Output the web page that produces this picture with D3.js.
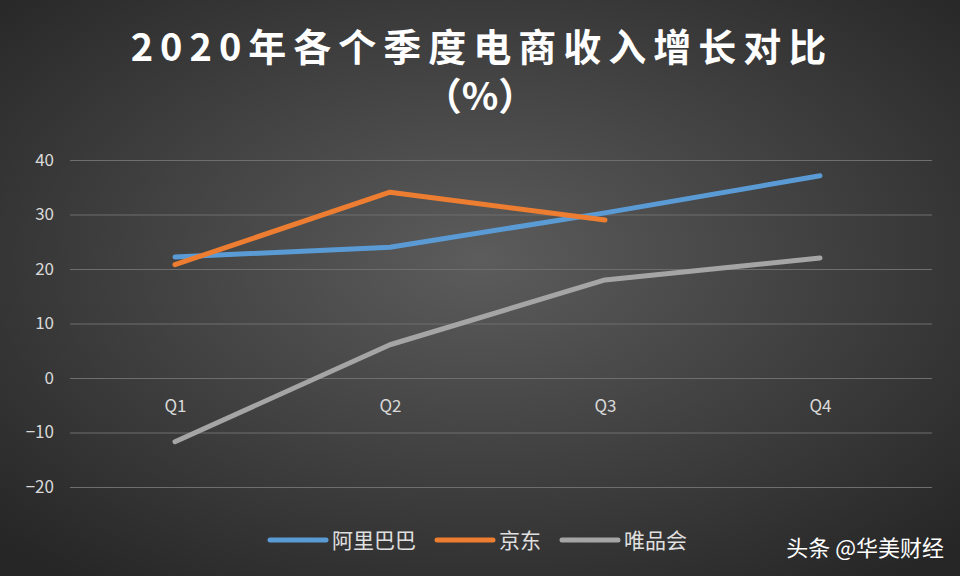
<!DOCTYPE html>
<html><head><meta charset="utf-8">
<script src="https://cdn.jsdelivr.net/npm/d3@7"></script>
<style>body{margin:0;background:#333}svg{display:block}</style>
</head><body><svg id="c" width="960" height="576"></svg>
<script>
const categories=["Q1","Q2","Q3","Q4"];
const alibaba=[22.2,24.0,30.3,37.1];
const jd=[20.8,34.1,29.0];
const vip=[-11.7,6.1,18.0,22.0];
const yTicks=[40,30,20,10,0,-10,-20];
const seriesNames=["阿里巴巴","京东","唯品会"];
const colors=["#5b9bd5","#ed7d31","#a5a5a5"];
const svg=d3.select("#c");
const defs=svg.append("defs");
const g=defs.append("radialGradient").attr("id","bg").attr("cx","50%").attr("cy","45%").attr("r","70%");
g.append("stop").attr("offset","0%").attr("stop-color","#5c5c5c");
g.append("stop").attr("offset","100%").attr("stop-color","#262626");
svg.append("rect").attr("width",960).attr("height",576).attr("fill","url(#bg)");
const font="'Noto Sans CJK SC','Noto Sans',sans-serif";
svg.append("text").attr("x",482).attr("y",61).attr("text-anchor","middle").attr("fill","#fff").attr("font-family",font).attr("font-weight","bold").attr("font-size",38).attr("letter-spacing",7).text("2020年各个季度电商收入增长对比");
svg.append("text").attr("x",480).attr("y",110).attr("text-anchor","middle").attr("fill","#fff").attr("font-family",font).attr("font-weight","bold").attr("font-size",38).text("（%）");
const x=d3.scalePoint().domain(categories).range([175,820]);
const y=d3.scaleLinear().domain([-20,40]).range([487,160]);
const ax=svg.append("g").attr("transform","translate(70,0)").call(d3.axisLeft(y).tickValues(yTicks).tickSize(-862).tickFormat(d3.format("d")));
ax.select(".domain").remove();
ax.selectAll("line").attr("stroke","#6e6e6e").attr("stroke-width",1);
ax.selectAll("text").attr("fill","#d9d9d9").attr("font-size",17).attr("font-family",font).attr("x",-16).attr("text-anchor","end");
const xa=svg.append("g").attr("transform",`translate(0,${y(0)})`).call(d3.axisBottom(x).tickSize(0).tickPadding(22));
xa.select(".domain").remove();
xa.selectAll("text").attr("fill","#d9d9d9").attr("font-size",17).attr("font-family",font);
const line=d3.line().x((d,i)=>x(categories[i])).y(d=>y(d));
[alibaba,jd,vip].forEach((s,i)=>{
 svg.append("path").datum(s).attr("d",line).attr("fill","none").attr("stroke",colors[i]).attr("stroke-width",5).attr("stroke-linejoin","round").attr("stroke-linecap","round");
});
const lx=[270,437,562];
seriesNames.forEach((n,i)=>{
 svg.append("line").attr("x1",lx[i]).attr("x2",lx[i]+56).attr("y1",540).attr("y2",540).attr("stroke",colors[i]).attr("stroke-width",5).attr("stroke-linecap","round");
 svg.append("text").attr("x",lx[i]+62).attr("y",548).attr("fill","#e0e0e0").attr("font-size",21).attr("font-family",font).text(n);
});
svg.append("text").attr("x",944).attr("y",556).attr("text-anchor","end").attr("fill","#fff").attr("font-size",22).attr("font-family",font).text("头条 @华美财经");
</script></body></html>
